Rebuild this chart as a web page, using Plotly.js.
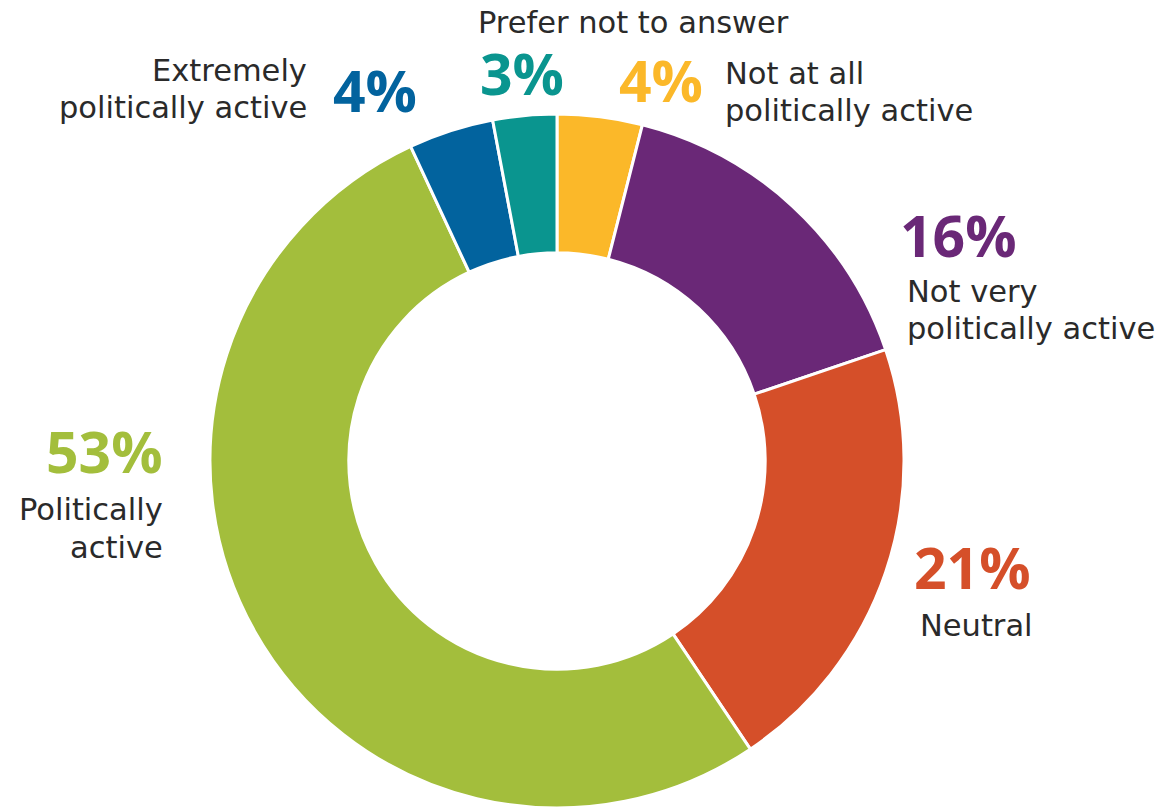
<!DOCTYPE html>
<html>
<head>
<meta charset="utf-8">
<script src="https://cdn.plot.ly/plotly-3.0.1.min.js"></script>
<style>html,body{margin:0;padding:0;background:#fff;}#chart{width:1167px;height:809px;}</style>
</head>
<body>
<div id="chart"></div>
<script>
const categories = ["Not at all politically active", "Not very politically active", "Neutral", "Politically active", "Extremely politically active", "Prefer not to answer"];
const values = [4, 16, 21, 53, 4, 3];
const colors = ["#FBB829", "#6A2877", "#D54F29", "#A3BE3C", "#02639E", "#0A958F"];
const pctLabels = ["4%", "16%", "21%", "53%", "4%", "3%"];
const nameLines = [["Not at all", "politically active"], ["Not very", "politically active"], ["Neutral"], ["Politically", "active"], ["Extremely", "politically active"], ["Prefer not to answer"]];

const W = 1167, H = 809;
const PFONT = "'Open Sans', sans-serif";
const NFONT = "'DejaVu Sans', sans-serif";
const TXT = "#2a2a2a";
const LINE = 37;
function px(x){return x / W;}
function py(y){return 1 - y / H;}

// layout positions (pixels): [pctX, pctY, pctAnchor, nameX, nameFirstLineY, nameAnchor]
const pos = [
  [661, 80.5, "center", 723, 73.5, "left"],
  [958, 235, "center", 905, 291, "left"],
  [972, 566.5, "center", 918, 625.5, "left"],
  [165, 451, "right", 165, 510, "right"],
  [375, 90, "center", 309, 70.5, "right"],
  [522, 73.5, "center", 633, 22.5, "center"]
];

const annotations = [];
pctLabels.forEach((p, i) => {
  const q = pos[i];
  annotations.push({text: "<b>" + p + "</b>", x: px(q[0]), y: py(q[1]), xref: "paper", yref: "paper",
    xanchor: q[2], yanchor: "middle", showarrow: false, font: {family: PFONT, size: 57, color: colors[i]}});
  nameLines[i].forEach((ln, j) => {
    annotations.push({text: ln, x: px(q[3]), y: py(q[4] + j * LINE), xref: "paper", yref: "paper",
      xanchor: q[5], yanchor: "middle", align: q[5], showarrow: false, font: {family: NFONT, size: 30.5, color: TXT}});
  });
});

const cx = 557, cy = 461, R = 347;
const data = [{
  type: "pie",
  labels: categories,
  values: values,
  hole: 0.6,
  sort: false,
  direction: "clockwise",
  rotation: 0,
  marker: {colors: colors, line: {color: "#ffffff", width: 3}},
  textinfo: "none",
  hoverinfo: "none",
  domain: {x: [px(cx - R), px(cx + R)], y: [py(cy + R), py(cy - R)]}
}];

const layout = {
  width: W, height: H,
  margin: {l: 0, r: 0, t: 0, b: 0},
  paper_bgcolor: "#ffffff",
  showlegend: false,
  annotations: annotations
};

Plotly.newPlot("chart", data, layout, {displayModeBar: false, staticPlot: true});
</script>
</body>
</html>
